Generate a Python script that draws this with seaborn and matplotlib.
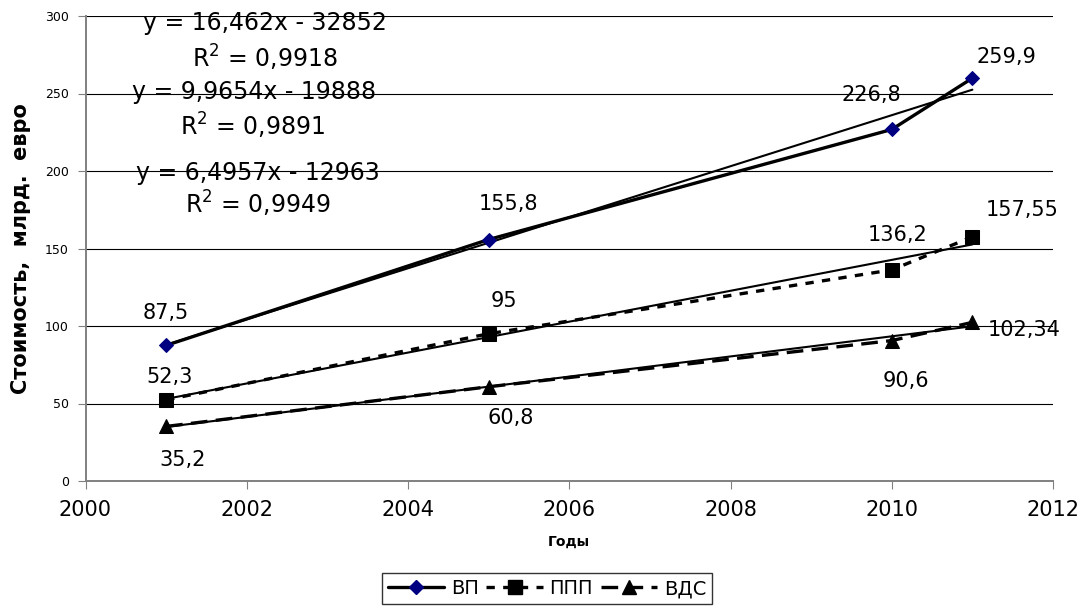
import numpy as np
import pandas as pd
import matplotlib
matplotlib.use("Agg")
import matplotlib.pyplot as plt
import seaborn as sns
from matplotlib.lines import Line2D

# data
years = [2001, 2005, 2010, 2011]
vp = [87.5, 155.8, 226.8, 259.9]
ppp = [52.3, 95, 136.2, 157.55]
vds = [35.2, 60.8, 90.6, 102.34]
vp_labels = ["87,5", "155,8", "226,8", "259,9"]
ppp_labels = ["52,3", "95", "136,2", "157,55"]
vds_labels = ["35,2", "60,8", "90,6", "102,34"]
equations = [("y = 16,462x - 32852", "0,9918"),
             ("y = 9,9654x - 19888", "0,9891"),
             ("y = 6,4957x - 12963", "0,9949")]

df = pd.DataFrame({"Год": years, "ВП": vp, "ППП": ppp, "ВДС": vds})

sns.set_style("white")
plt.rcParams["font.family"] = ["DejaVu Sans"]
plt.rcParams["text.color"] = "black"
plt.rcParams["axes.labelcolor"] = "black"
plt.rcParams["xtick.color"] = "black"
plt.rcParams["ytick.color"] = "black"

fig = plt.figure(figsize=(10.83, 6.1), dpi=100)
ax = fig.add_axes([85.5 / 1083, 1 - 481 / 610, 967.5 / 1083, 465 / 610])

# gridlines
for yv in range(50, 301, 50):
    ax.axhline(yv, color="black", lw=0.8, zorder=0)

# series
sns.lineplot(data=df, x="Год", y="ВП", ax=ax, color="black", lw=2.4,
             marker="D", markersize=7, markerfacecolor="#000080",
             markeredgecolor="#000080", zorder=3)
sns.lineplot(data=df, x="Год", y="ППП", ax=ax, color="black", lw=2.4,
             linestyle=(0, (2.5, 2.5)), marker="s", markersize=9.5,
             markerfacecolor="black", markeredgecolor="black", zorder=3)
sns.lineplot(data=df, x="Год", y="ВДС", ax=ax, color="black", lw=2.4,
             linestyle=(0, (5, 2.5)), marker="^", markersize=10.5,
             markerfacecolor="black", markeredgecolor="black", zorder=3)

# linear trend lines
for col in ["ВП", "ППП", "ВДС"]:
    sns.regplot(data=df, x="Год", y=col, ax=ax, scatter=False, ci=None,
                color="black", line_kws={"lw": 1.5, "zorder": 2})

# data labels (offsets in pixels -> points)
lab_fs = 15
vp_off = [(0, 32), (20, 36), (-20, 34), (34, 21)]
ppp_off = [(3, 23), (15, 33), (6, 35), (50, 27)]
vds_off = [(16, -34), (22, -31), (14, -40), (52, -8)]
for vals, labs, offs in [(vp, vp_labels, vp_off), (ppp, ppp_labels, ppp_off),
                         (vds, vds_labels, vds_off)]:
    for x, y, t, o in zip(years, vals, labs, offs):
        ax.annotate(t, (x, y), xytext=(o[0] * 0.72, o[1] * 0.72),
                    textcoords="offset points", ha="center", va="center",
                    fontsize=lab_fs)

# trend equations
eq_pos = [((265, 23), (265, 58)), ((254, 92), (253, 126)), ((258, 173), (258, 204))]
for (eq, r2), (p1, p2) in zip(equations, eq_pos):
    fig.text(p1[0] / 1083, 1 - p1[1] / 610, eq, ha="center", va="center", fontsize=17)
    fig.text(p2[0] / 1083, 1 - p2[1] / 610, "R$^{2}$ = " + r2, ha="center",
             va="center", fontsize=17)

ax.set_xlim(2000, 2012)
ax.set_ylim(0, 300)
ax.set_xticks(range(2000, 2013, 2))
ax.set_yticks(range(0, 301, 50))
ax.tick_params(axis="x", labelsize=15, length=6, direction="out", bottom=True,
               color="#808080", pad=8)
ax.tick_params(axis="y", labelsize=9, length=6, direction="out", left=True,
               color="#808080", pad=6)
for s in ["top", "right"]:
    ax.spines[s].set_visible(False)
for s in ["left", "bottom"]:
    ax.spines[s].set_color("#808080")
    ax.spines[s].set_linewidth(1.4)

ax.set_xlabel("Годы", fontsize=10, fontweight="bold", labelpad=10)
ax.set_ylabel("Стоимость,  млрд.  евро", fontsize=15, fontweight="bold", labelpad=10)

handles = [
    Line2D([], [], color="black", lw=2.4, marker="D", markersize=7,
           markerfacecolor="#000080", markeredgecolor="#000080"),
    Line2D([], [], color="black", lw=2.4, linestyle=(0, (2.5, 2.5)), marker="s",
           markersize=9.5),
    Line2D([], [], color="black", lw=2.4, linestyle=(0, (5, 2.5)), marker="^",
           markersize=10.5),
]
leg = fig.legend(handles, ["ВП", "ППП", "ВДС"], loc="lower center",
                 bbox_to_anchor=(547 / 1083, 6 / 610), ncol=3, fontsize=14,
                 frameon=True, fancybox=False, handlelength=2.9,
                 handletextpad=0.35, columnspacing=0.4, borderpad=0.3,
                 borderaxespad=0)
leg.get_frame().set_edgecolor("black")
leg.get_frame().set_linewidth(1.0)

fig.savefig("out.png", dpi=100)
